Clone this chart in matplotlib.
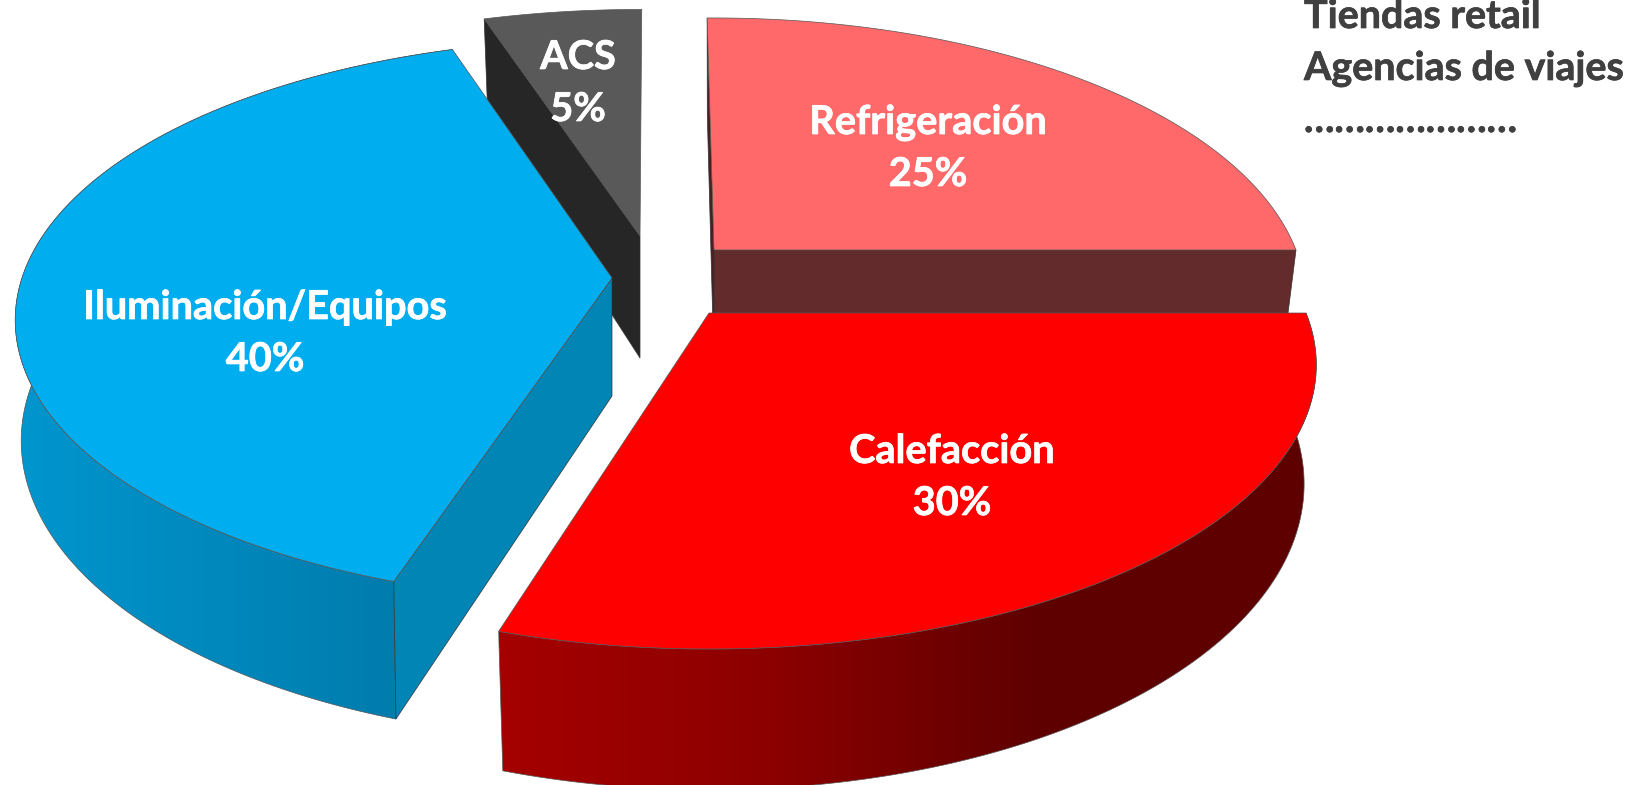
# -*- coding: utf-8 -*-
"""Tarta 3D con porciones separadas: consumo por uso en comercio."""
import matplotlib
matplotlib.use("Agg")
import matplotlib.patheffects as pe
import matplotlib.pyplot as plt
import numpy as np
from matplotlib.colors import LinearSegmentedColormap
from matplotlib.patches import Polygon

categorias = ["Refrigeración", "Calefacción", "Iluminación/Equipos", "ACS"]
valores = [25, 30, 40, 5]
notas = ["Tiendas retail", "Agencias de viajes", "…………………"]

colores_cara = ["#FF6969", "#FF0000", "#00AEEF", "#595959"]
color_pared_refri = "#632B2B"
color_pared_refri_borde = "#4A2020"
color_pared_acs = "#262626"
color_pared_ilum = "#0085B5"
degradado_calef = ["#A50000", "#8C0000", "#5E0000", "#600000"]
degradado_ilum = ["#0096CE", "#0078A8"]

# Geometría en píxeles de la imagen
centros = [(714, 250), (709, 313), (612, 278), (640, 236)]
radios_x = [582, 597, 590, 592]
radios_y = [274.5, 274.5, 274.5, 268]
perspectiva = [0.183, 0.183, 0.15, 0.183]
fondos = [115, 115, 118, 122]
escalas_base = [0.975, 0.98, 0.99, 0.975]
ajuste_ini = [-0.8, 0, 0.5, 0]  # grados, la perspectiva no es exacta
ajuste_fin = [0, -1.1, 0, 0.2]
# x del centro de la etiqueta y línea base de nombre y porcentaje
pos_etiquetas = [(928, 134), (952, 463), (265, 319), (578, 69)]
salto_linea = 52


def proyectar(i, ang_horario, base=False):
    """De ángulo horario (desde las 12) a píxeles, con perspectiva simple."""
    t = np.radians(90 - np.asarray(ang_horario, dtype=float))
    w = 1 + perspectiva[i] * np.sin(t)
    x = radios_x[i] * np.cos(t) / w
    y = -radios_y[i] * np.sin(t) / w
    if base:
        x = x * escalas_base[i]
        y = y + fondos[i] / w
    return np.column_stack([centros[i][0] + x, centros[i][1] + y])


def arco(i, ini, fin, base=False):
    return proyectar(i, np.linspace(ini, fin, 160), base)


def pared_radial(ax, i, ang, color, z):
    c = centros[i]
    pts = [c, proyectar(i, [ang])[0], proyectar(i, [ang], True)[0], (c[0], c[1] + fondos[i])]
    ax.add_patch(Polygon(pts, closed=True, fc=color, ec="#333333", lw=0.5, zorder=z))


def pared_curva(ax, i, ini, fin, stops, z):
    pts = np.vstack([arco(i, ini, fin), arco(i, fin, ini, True)])
    x0, x1 = pts[:, 0].min(), pts[:, 0].max()
    y0, y1 = pts[:, 1].min(), pts[:, 1].max()
    cmap = LinearSegmentedColormap.from_list("d", stops)
    grad = np.linspace(0, 1, 256).reshape(1, -1)
    im = ax.imshow(grad, cmap=cmap, extent=(x0, x1, y1, y0), aspect="auto", zorder=z)
    parche = Polygon(pts, closed=True, fc="none", ec="#555555", lw=0.5, zorder=z)
    ax.add_patch(parche)
    im.set_clip_path(parche)


def cara(ax, i, ini, fin, z):
    pts = np.vstack([[centros[i]], arco(i, ini, fin)])
    ax.add_patch(Polygon(pts, closed=True, fc=colores_cara[i], ec="#555555", lw=0.5, zorder=z))


def main():
    fig = plt.figure(figsize=(16.45, 7.85), dpi=100)
    ax = fig.add_axes([0, 0, 1, 1])
    plt.rcParams["font.family"] = ["Lato", "DejaVu Sans"]

    lim = np.cumsum([0] + valores) * 3.6
    ini = [a + b for a, b in zip(lim[:-1], ajuste_ini)]
    fin = [a + b for a, b in zip(lim[1:], ajuste_fin)]
    refri, calef, ilum, acs = 0, 1, 2, 3

    # --- De atrás hacia delante ---
    pared_radial(ax, acs, ini[acs], color_pared_acs, 1)
    cara(ax, acs, ini[acs], fin[acs], 1.1)

    pared_radial(ax, refri, ini[refri], color_pared_refri_borde, 1)
    pared_radial(ax, refri, fin[refri], color_pared_refri, 1)
    cara(ax, refri, ini[refri], fin[refri], 1.1)

    pared_curva(ax, ilum, ini[ilum], fin[ilum], degradado_ilum, 1.2)
    pared_radial(ax, ilum, ini[ilum], color_pared_ilum, 1.3)
    cara(ax, ilum, ini[ilum], fin[ilum], 1.4)

    pared_curva(ax, calef, ini[calef], fin[calef], degradado_calef, 1.5)
    cara(ax, calef, ini[calef], fin[calef], 1.6)

    # --- Etiquetas ---
    trazo = [pe.withStroke(linewidth=0.5, foreground="white")]
    for nombre, valor, (x, y) in zip(categorias, valores, pos_etiquetas):
        for txt, yy in ((nombre, y), (f"{valor}%", y + salto_linea)):
            ax.text(x, yy, txt, color="white", fontsize=28.6, fontweight="bold",
                    ha="center", va="baseline", zorder=3, path_effects=trazo)
    trazo_nota = [pe.withStroke(linewidth=0.5, foreground="#404040")]
    for i, nota in enumerate(notas):
        ax.text(1304, 28 + 52 * i, nota, color="#404040", fontsize=28.4, fontweight="bold",
                ha="left", va="baseline", zorder=3, path_effects=trazo_nota)

    ax.set_xlim(0, 1645)
    ax.set_ylim(785, 0)
    ax.axis("off")
    fig.savefig("out.png", dpi=100, facecolor="white")


if __name__ == "__main__":
    main()
